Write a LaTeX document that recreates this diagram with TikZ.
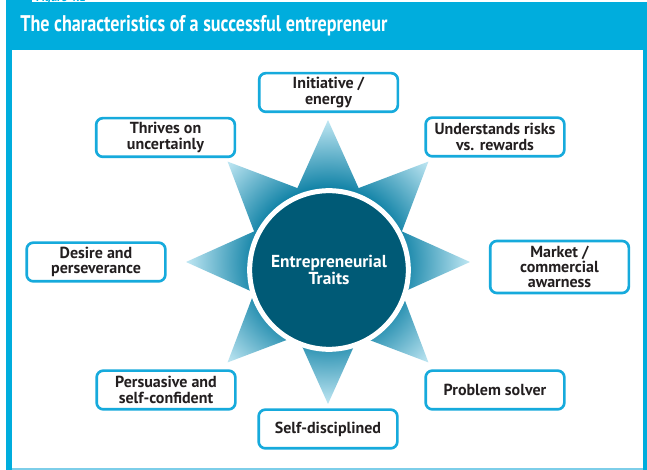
\documentclass[tikz,border=0pt]{standalone}
\usepackage{fontspec}
\setmainfont{PT Sans}
\newfontfamily\headfont{PT Sans}[FakeStretch=0.8]
\usepackage{xcolor}
\usepackage{tikz}
\usetikzlibrary{positioning,shapes}

\definecolor{headblue}{RGB}{0,173,221}
\definecolor{boxblue}{RGB}{22,170,220}
\definecolor{coredark}{RGB}{0,90,118}
\definecolor{spikedark}{RGB}{16,130,166}
\definecolor{spikelight}{RGB}{192,231,243}
\definecolor{inktext}{RGB}{35,31,32}
\definecolor{rulelight}{RGB}{125,206,233}

\pgfdeclareradialshading{spikeshade}{\pgfpoint{0bp}{0bp}}{color(0bp)=(spikedark); color(13bp)=(spikedark); color(25bp)=(spikelight); color(50bp)=(spikelight)}

\tikzset{
    trait/.style={draw=boxblue, line width=2pt, rounded corners=5pt, fill=white, text=inktext,
        font=\bfseries\fontsize{12}{11.5}\selectfont, align=center,
        minimum width=104pt, minimum height=29pt, inner sep=2pt},
    core/.style={circle, fill=coredark, draw=white, line width=3.75pt, minimum size=119pt,
        inner sep=0pt, text=white, font=\bfseries\fontsize{13}{13}\selectfont, align=center}
}

\begin{document}
\begin{tikzpicture}[x=0.75pt, y=-0.75pt]
            \useasboundingbox (0,0) rectangle (647,470);
            \fill [white] (0,0) rectangle (647,470);

            % frame and heading
            \fill [headblue] (6,2) rectangle (647,470);
            \fill [headblue] (6,0) rectangle (32,2);
            \fill [white] (12,50) rectangle (643,468);
            \fill [rulelight] (12,468) rectangle (643,470);
            \begin{scope}
            \clip (32,0) rectangle (647,2.5);
            \node [anchor=base west, inner sep=0pt, text=headblue, font=\bfseries\itshape\small] (figlabel) at (36,2) {Figure 4.1};
            \end{scope}
            \node [anchor=west, inner sep=0pt, text=white, font=\headfont\bfseries\fontsize{17}{18}\selectfont] (title) at (20,26) {The characteristics of a successful entrepreneur};

            % star behind the centre
            \path [shading=spikeshade, shift={(328,262)}]
                (90:142) -- (67.5:80) -- (45:142) -- (22.5:80) -- (0:142) -- (-22.5:80)
                -- (-45:142) -- (-67.5:80) -- (-90:142) -- (-112.5:80) -- (-135:142)
                -- (-157.5:80) -- (180:142) -- (157.5:80) -- (135:142) -- (112.5:80) -- cycle;

            \node [core] (traits) at (329,270) {Entrepreneurial\\Traits};

            \node [trait] (initiative) at (328.5,92.5) {Initiative /\\energy};
            \node [trait] (risks) at (495,137) {Understands risks\\vs. rewards};
            \node [trait, minimum height=39pt] (market) at (559.5,267) {Market /\\commercial\\awarness};
            \node [trait] (solver) at (495,390) {Problem solver};
            \node [trait] (disciplined) at (328,429) {Self-disciplined};
            \node [trait] (persuasive) at (166,390) {Persuasive and\\self-confident};
            \node [trait] (desire) at (96,262) {Desire and\\perseverance};
            \node [trait] (thrives) at (165.5,137.5) {Thrives on\\uncertainly};
\end{tikzpicture}
\end{document}
